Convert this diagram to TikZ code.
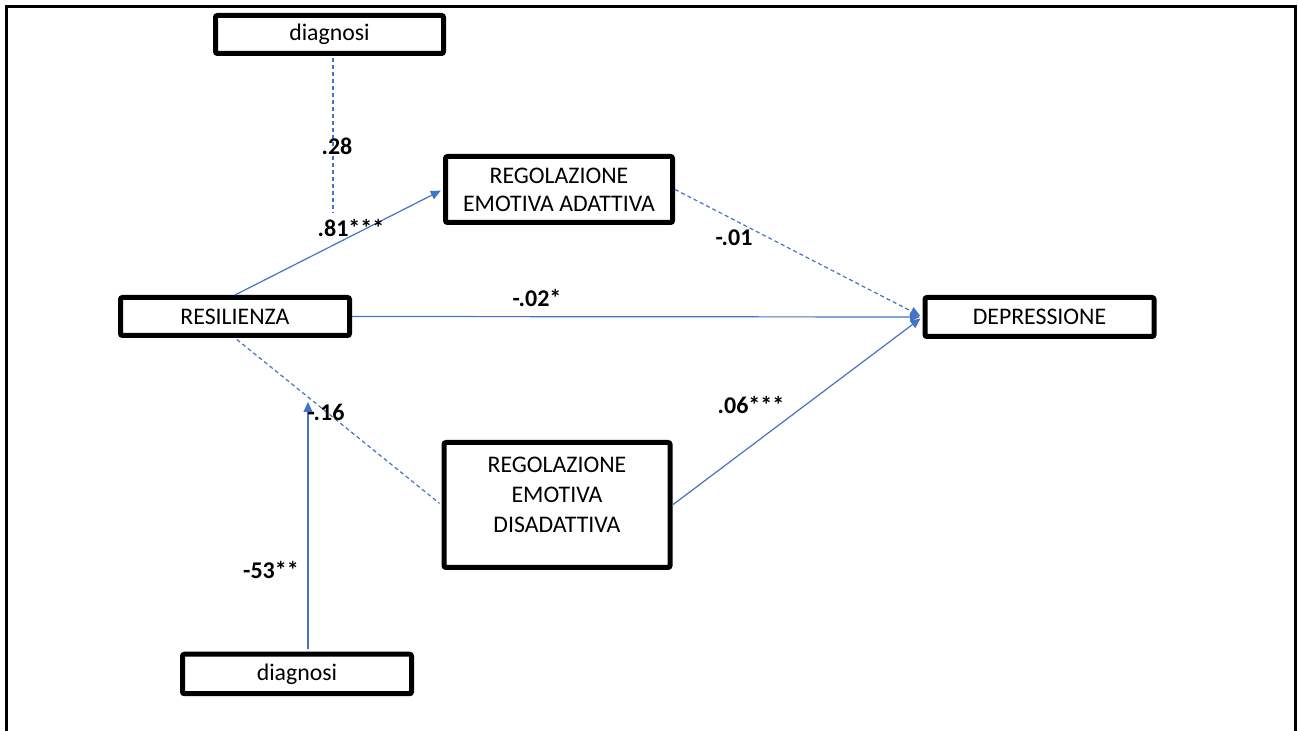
\documentclass[tikz,border=0pt]{standalone}
\usepackage{fontspec}
\setmainfont{Carlito}
\usetikzlibrary{arrows.meta}
\definecolor{linkblue}{RGB}{68,114,196}
\begin{document}
\begin{tikzpicture}[x=0.5pt,y=-0.5pt,
  box/.style={draw, line width=2.5pt, rounded corners=1pt, fill=white,
    font=\fontsize{11.9}{14}\selectfont, align=center, inner sep=0pt},
  boxtext/.style={font=\fontsize{11.9}{15}\selectfont, align=center, inner sep=0pt},
  coef/.style={font=\bfseries\fontsize{12}{14}\selectfont, inner sep=0pt},
  link/.style={draw=linkblue, line width=0.6pt},
  dlink/.style={link, dash pattern=on 2pt off 1.5pt},
  head/.style={-{Triangle[length=5pt,width=4.5pt]}},
  tip/.style={head, shorten >=1.25pt}]

\useasboundingbox (0,0) rectangle (1298,731);
% outer frame
\draw[line width=1.5pt] (6.5,731) -- (6.5,6.5) -- (1295,6.5) -- (1295,731);

% variables
\node[box, minimum width=114pt, minimum height=19pt] (diagtop) at (329.5,34.5) {diagnosi};
\node[box, minimum width=113.5pt, minimum height=33pt] (ada) at (559,189.5) {REGOLAZIONE\\EMOTIVA ADATTIVA};
\node[box, minimum width=114.5pt, minimum height=19pt] (res) at (235,316.5) {RESILIENZA};
\node[box, minimum width=114.5pt, minimum height=19.5pt] (dep) at (1039.5,317) {DEPRESSIONE};
\node[box, minimum width=113pt, minimum height=62.5pt] (dis) at (557,505) {};
\node[boxtext] (distext) at (557,495) {REGOLAZIONE\\EMOTIVA\\DISADATTIVA};
\node[box, minimum width=114.5pt, minimum height=19.75pt] (diagbot) at (297,674) {diagnosi};

% free ends of the moderation paths
\coordinate (modtop) at (333,213);
\coordinate (modbot) at (308,402);

% paths
\draw[link, tip] (res.north) -- (ada.west);
\draw[link, tip] (res.east) -- (dep.west);
\draw[dlink, tip] (ada.east) -- (dep.west);
\draw[link, tip] (dis.east) -- (dep.west);
\draw[dlink, shorten >=1.25pt, shorten <=1.25pt] (res.south) -- (dis.west);
\draw[dlink, shorten <=1.25pt] (diagtop.south -| modtop) -- (modtop);
\draw[link, head, shorten <=1.25pt] (diagbot.north -| modbot) -- (modbot);

% coefficients
\node[coef] (c28) at (337,146) {.28};
\node[coef] (c81) at (351,228) {.81***};
\node[coef] (c01) at (734,238) {-.01};
\node[coef] (c02) at (537,298) {-.02*};
\node[coef] (c16) at (326,412) {-.16};
\node[coef] (c06) at (751,405) {.06***};
\node[coef] (c53) at (271,570) {-53**};
\end{tikzpicture}
\end{document}
